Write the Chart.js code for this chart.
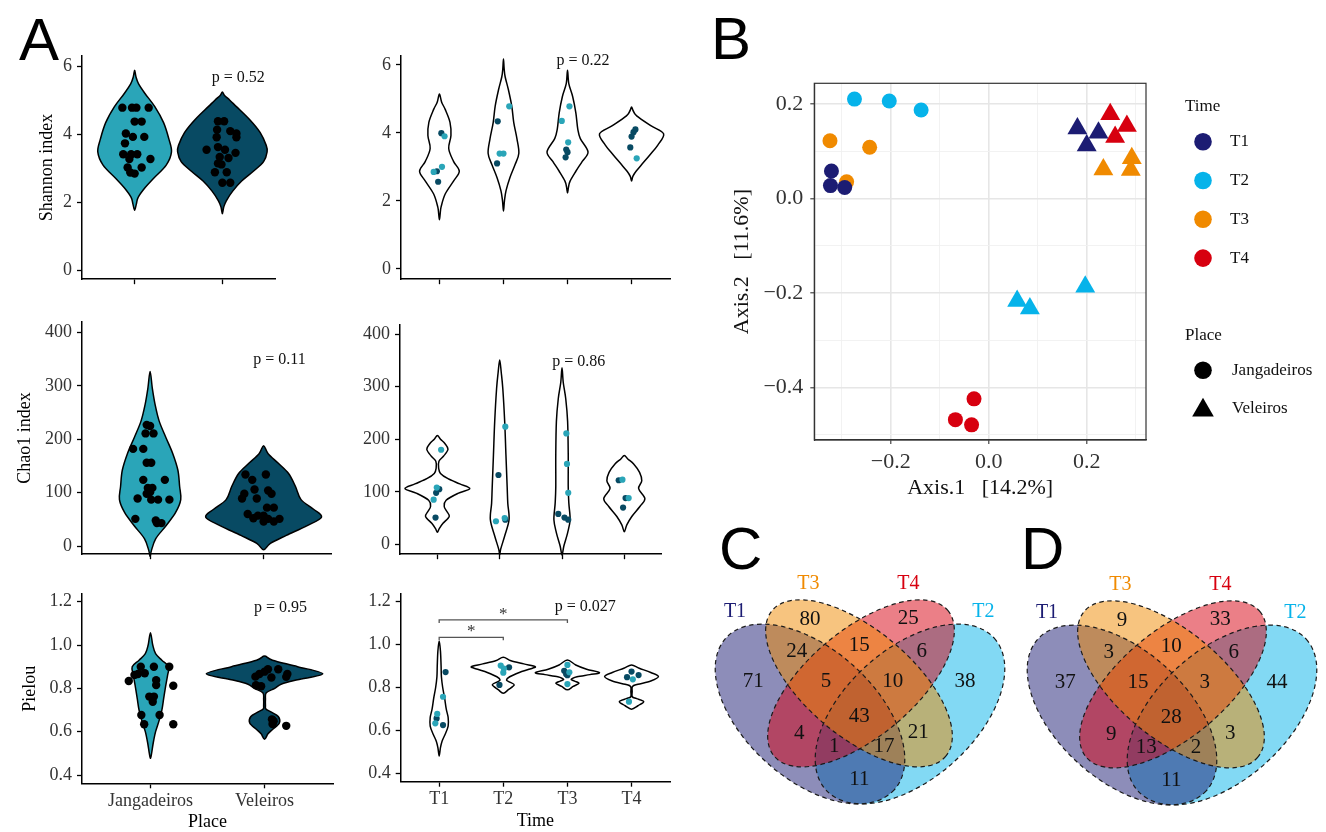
<!DOCTYPE html>
<html>
<head>
<meta charset="utf-8">
<script src="https://cdn.jsdelivr.net/npm/chart.js@4.4.1/dist/chart.umd.min.js"></script>
<style>
html, body { margin: 0; padding: 0; background: #fff; width: 1326px; height: 832px; overflow: hidden; }
canvas { position: absolute; }
.tag { position: absolute; font-family: "Liberation Sans", Arial, sans-serif; font-size: 60px; line-height: 60px; color: #000; }
</style>
</head>
<body>
<div class="tag" style="left:19px;top:10px">A</div>
<div class="tag" style="left:711px;top:9px">B</div>
<div class="tag" style="left:719px;top:519px">C</div>
<div class="tag" style="left:1021px;top:519px">D</div>

<canvas id="shP" width="300" height="255" style="left:0;top:40px"></canvas>
<canvas id="shT" width="350" height="255" style="left:340px;top:40px"></canvas>
<canvas id="chP" width="350" height="265" style="left:0;top:305px"></canvas>
<canvas id="chT" width="350" height="265" style="left:340px;top:305px"></canvas>
<canvas id="piP" width="350" height="257" style="left:0;top:575px"></canvas>
<canvas id="piT" width="350" height="257" style="left:340px;top:575px"></canvas>
<canvas id="pcoa" width="626" height="460" style="left:700px;top:60px"></canvas>
<canvas id="vennC" width="320" height="292" style="left:700px;top:540px"></canvas>
<canvas id="vennD" width="314" height="291" style="left:1012px;top:541px"></canvas>

<script>
// ---------- panel A data ----------
const placeCats = ['Jangadeiros', 'Veleiros'];
const timeCats = ['T1', 'T2', 'T3', 'T4'];

const shannonTicks = [0, 2, 4, 6];
const chao1Ticks = [0, 100, 200, 300, 400];
const pielouTicks = [0.4, 0.6, 0.8, 1.0, 1.2];

// violin outlines: [value, half width in category units]
const shannonPlaceViolins = [
  [[1.77,0],[1.96,0.02],[2.15,0.04],[2.44,0.12],[2.72,0.22],[3.1,0.36],[3.49,0.42],[3.87,0.39],[4.35,0.33],[4.82,0.23],[5.2,0.12],[5.49,0.045],[5.7,0.015],[5.89,0]],
  [[1.67,0],[1.86,0.015],[2.05,0.045],[2.34,0.12],[2.63,0.22],[2.91,0.35],[3.2,0.47],[3.49,0.51],[3.68,0.5],[4.06,0.43],[4.44,0.31],[4.82,0.16],[5.01,0.085],[5.15,0.025],[5.25,0]]
];
// points: [jitter, value]
const shannonPlacePoints = [
  [[-0.14,4.79],[-0.03,4.79],[0.02,4.79],[0.16,4.79],[0,4.38],[0.08,4.38],[-0.1,4.03],[-0.02,3.93],[0.11,3.93],[-0.11,3.74],[-0.13,3.42],[-0.04,3.42],[0.03,3.42],[0.18,3.28],[-0.06,3.28],[-0.08,3.03],[0.08,3.03],[-0.05,2.88],[0,2.85]],
  [[-0.05,4.39],[0.02,4.39],[-0.06,4.14],[0.09,4.1],[0.16,4.03],[0.16,3.92],[-0.065,3.92],[-0.18,3.55],[-0.05,3.63],[0.03,3.55],[-0.03,3.34],[0.07,3.31],[0.15,3.46],[-0.05,3.15],[-0.01,3.12],[-0.085,2.89],[0.05,2.89],[0,2.58],[0.09,2.58]]
];
const shannonTimeViolins = [
  [[1.44,0],[1.62,0.012],[1.82,0.026],[2.2,0.09],[2.58,0.22],[2.87,0.31],[3.16,0.22],[3.54,0.145],[3.92,0.18],[4.31,0.165],[4.69,0.09],[4.9,0.035],[5.14,0]],
  [[1.7,0],[2.0,0.015],[2.3,0.04],[2.68,0.1],[3.06,0.18],[3.4,0.24],[3.83,0.21],[4.31,0.16],[4.78,0.13],[5.26,0.078],[5.65,0.026],[5.9,0.01],[6.17,0]],
  [[2.23,0],[2.4,0.015],[2.58,0.04],[2.87,0.13],[3.16,0.23],[3.44,0.32],[3.83,0.2],[4.11,0.16],[4.59,0.13],[5.07,0.08],[5.45,0.02],[5.84,0]],
  [[2.58,0],[2.72,0.02],[2.87,0.07],[3.06,0.155],[3.35,0.285],[3.64,0.41],[3.97,0.5],[4.21,0.3],[4.5,0.08],[4.65,0.025],[4.76,0]]
];
// points: [jitter, value, place index]
const shannonTimePoints = [
  [[0.03,3.99,1],[0.08,3.9,0],[0.04,3.0,0],[-0.09,2.85,0],[-0.04,2.87,1],[-0.02,2.56,1]],
  [[-0.09,4.34,1],[0.09,4.78,0],[-0.06,3.39,0],[0,3.39,0],[-0.1,3.1,1]],
  [[0.03,4.78,0],[-0.09,4.35,0],[0.01,3.72,0],[-0.02,3.51,1],[0,3.43,1],[-0.03,3.28,1]],
  [[0.06,4.1,1],[0.03,4.02,1],[0,3.89,1],[-0.02,3.57,1],[0.08,3.25,0]]
];

const chao1PlaceViolins = [
  [[-19.5,0],[-8,0.012],[14,0.05],[38,0.14],[63,0.225],[87,0.27],[112,0.26],[142,0.245],[173,0.2],[203,0.14],[234,0.08],[264,0.045],[295,0.02],[327,0]],
  [[-7,0],[5,0.06],[20,0.2],[38,0.38],[54,0.51],[69,0.44],[87,0.33],[112,0.28],[136,0.22],[155,0.13],[173,0.04],[188,0]]
];
const chao1PlacePoints = [
  [[-0.03,227],[0,225],[-0.04,211],[0.03,211],[-0.15,182],[-0.06,182],[-0.03,156],[0.01,156],[-0.06,124],[0.13,124],[-0.02,109],[0.02,109],[0,101],[-0.03,98],[-0.11,89],[0.01,87],[0.07,87],[0.17,87],[-0.13,51],[0.05,48],[0.06,43],[0.1,43]],
  [[-0.16,134],[0.02,134],[-0.1,124],[-0.08,106],[0.04,104],[0.07,98],[-0.17,98],[-0.19,89],[-0.06,89],[0.03,72],[0.09,72],[-0.14,60],[-0.09,52],[-0.05,57],[0,57],[0.04,51],[0.14,51],[0,46],[0.09,46]]
];
const chao1TimeViolins = [
  [[23,0],[30,0.03],[40,0.09],[53,0.19],[63,0.15],[72,0.11],[84,0.14],[97,0.33],[106,0.52],[115,0.36],[125,0.17],[135,0.05],[145,0.02],[158,0.025],[168,0.1],[181,0.17],[192,0.12],[200,0.05],[207,0]],
  [[-20,0],[-9,0.016],[16,0.08],[47,0.15],[78,0.13],[109,0.12],[171,0.1],[234,0.08],[296,0.05],[327,0.025],[351,0]],
  [[-20,0],[-3,0.03],[22,0.09],[47,0.13],[78,0.11],[109,0.1],[171,0.1],[234,0.09],[277,0.06],[308,0.02],[336,0]],
  [[24,0],[37,0.04],[53,0.12],[72,0.25],[87,0.33],[106,0.23],[121,0.28],[137,0.245],[153,0.15],[162,0.06],[169,0]]
];
const chao1TimePoints = [
  [[0.06,180,0],[-0.01,108,0],[0.03,105,1],[-0.02,98,1],[-0.06,85,0],[-0.03,51,1]],
  [[0.09,224,0],[-0.02,132,1],[-0.06,44,0],[0.08,50,0],[0.09,47,1]],
  [[0.07,211,0],[0.08,153,0],[0.1,98,0],[-0.06,58,1],[0.04,51,1],[0.1,47,1]],
  [[-0.09,122,1],[-0.03,123,0],[0.02,88,1],[0.07,88,0],[-0.02,70,1]]
];

const pielouPlaceViolins = [
  [[0.477,0],[0.5,0.01],[0.55,0.025],[0.6,0.045],[0.65,0.075],[0.7,0.1],[0.75,0.115],[0.8,0.13],[0.86,0.15],[0.9,0.16],[0.93,0.1],[0.96,0.045],[1.0,0.02],[1.057,0]],
  [[0.565,0],[0.59,0.03],[0.61,0.07],[0.64,0.13],[0.67,0.12],[0.69,0.06],[0.705,0.012],[0.72,0.008],[0.75,0.008],[0.78,0.015],[0.8,0.09],[0.82,0.15],[0.84,0.29],[0.867,0.51],[0.9,0.29],[0.93,0.07],[0.949,0]]
];
const pielouPlacePoints = [
  [[-0.19,0.834],[-0.14,0.862],[-0.085,0.9],[-0.05,0.87],[0.03,0.9],[0.165,0.9],[0.05,0.838],[0.05,0.815],[0.2,0.812],[-0.01,0.762],[0.03,0.762],[0.02,0.738],[-0.08,0.677],[0.08,0.677],[-0.055,0.634],[0.2,0.634],[-0.11,0.866]],
  [[-0.08,0.854],[-0.075,0.815],[-0.03,0.81],[0,0.877],[0.03,0.888],[0.06,0.85],[0.12,0.888],[0.2,0.866],[0.19,0.853],[-0.045,0.866],[0.065,0.657],[0.07,0.635],[0.19,0.627],[0.08,0.648]]
];
const pielouTimeViolins = [
  [[0.481,0],[0.52,0.02],[0.55,0.045],[0.58,0.09],[0.62,0.14],[0.66,0.14],[0.7,0.11],[0.75,0.085],[0.8,0.055],[0.85,0.035],[0.9,0.03],[0.97,0.02],[1.017,0]],
  [[0.773,0],[0.79,0.08],[0.812,0.17],[0.825,0.1],[0.835,0.05],[0.85,0.1],[0.87,0.25],[0.885,0.4],[0.897,0.5],[0.91,0.32],[0.925,0.12],[0.941,0]],
  [[0.789,0],[0.805,0.09],[0.82,0.18],[0.83,0.11],[0.838,0.06],[0.85,0.15],[0.86,0.35],[0.869,0.5],[0.885,0.3],[0.905,0.13],[0.928,0]],
  [[0.699,0],[0.715,0.1],[0.734,0.19],[0.748,0.08],[0.757,0.012],[0.78,0.01],[0.805,0.015],[0.815,0.1],[0.83,0.3],[0.851,0.42],[0.87,0.3],[0.89,0.12],[0.905,0]]
];
const pielouTimePoints = [
  [[0.1,0.872,1],[0.06,0.757,0],[-0.03,0.677,0],[-0.04,0.656,1],[-0.06,0.633,0],[0.06,0.625,1]],
  [[-0.04,0.902,0],[0,0.869,0],[0.01,0.888,0],[0.09,0.894,1],[-0.06,0.812,1]],
  [[0,0.905,0],[-0.05,0.878,1],[-0.02,0.863,1],[0.03,0.871,0],[0,0.857,1],[0,0.816,0]],
  [[-0.07,0.848,1],[0,0.874,1],[0.02,0.838,0],[0.11,0.858,1],[-0.04,0.734,0]]
];

const pShannon = ['p = 0.52', 'p = 0.22'];
const pChao1 = ['p = 0.11', 'p = 0.86'];
const pPielou = ['p = 0.95', 'p = 0.027'];
// pairwise comparisons on Pielou by time: [from, to, height, mark]
const pielouPairs = [[1, 3, 1.115, '*'], [1, 2, 1.034, '*']];

// ---------- panel B data (PCoA) ----------
const pcoaXTicks = [-0.3, -0.2, -0.1, 0, 0.1, 0.2, 0.3];
const pcoaYTicks = [-0.5, -0.4, -0.3, -0.2, -0.1, 0, 0.1, 0.2];
const pcoaAxis1Jangadeiros = [[-0.321,-0.323,-0.294],[-0.274,-0.203,-0.138],[-0.324,-0.243,-0.290],[-0.030,-0.068,-0.035]];
const pcoaAxis2Jangadeiros = [[0.058,0.027,0.023],[0.210,0.206,0.187],[0.122,0.108,0.035],[-0.424,-0.468,-0.479]];
const pcoaAxis1Veleiros = [[0.181,0.224,0.200],[0.058,0.084,0.197],[0.234,0.292,0.290],[0.248,0.282,0.258]];
const pcoaAxis2Veleiros = [[0.148,0.139,0.112],[-0.217,-0.233,-0.187],[0.061,0.085,0.060],[0.178,0.153,0.130]];

// ---------- panels C, D data (Venn counts) ----------
const vennRegions = ['T1','T3','T4','T2','T1&T3','T3&T4','T4&T2','T1&T3&T4','T3&T4&T2','all','T1&T4','T3&T2','T1&T2&T4','T1&T2&T3','T1&T2'];
const vennCountsC = [71, 80, 25, 38, 24, 15, 6, 5, 10, 43, 4, 21, 1, 17, 11];
const vennCountsD = [37, 9, 33, 44, 3, 10, 6, 15, 3, 28, 9, 3, 13, 2, 11];

// ---------- styles / layout ----------
const SERIF = '"Liberation Serif", "Times New Roman", serif';
const TEAL = '#2aa5b8', DEEP = '#084a63';
const timeColors = ['#1c1c73', '#06b3ea', '#f08a00', '#d7000f'];
// ellipses in venn units: [cx, cy, a, b, angle]; order T1, T2, T3, T4
const vennEllipses = [[0.330,0.478,0.340,0.195,-42],[0.630,0.478,0.340,0.195,42],[0.477,0.570,0.340,0.160,-40],[0.483,0.570,0.340,0.160,40]];
const vennDrawOrder = [1, 0, 3, 2];
const vennSetPos = [[0.105,0.785],[0.850,0.785],[0.325,0.870],[0.625,0.870]];
const vennLabelPos = [[0.160,0.575],[0.330,0.763],[0.625,0.765],[0.795,0.575],[0.290,0.665],[0.478,0.685],[0.665,0.665],[0.378,0.577],[0.578,0.577],[0.478,0.472],[0.298,0.420],[0.655,0.422],[0.403,0.380],[0.552,0.380],[0.478,0.282]];

Chart.defaults.font.family = SERIF;
Chart.defaults.color = '#333';

function smoothClosed(ctx, pts) {
  const n = pts.length;
  ctx.moveTo(pts[0][0], pts[0][1]);
  for (let i = 0; i < n; i++) {
    const p0 = pts[(i - 1 + n) % n], p1 = pts[i], p2 = pts[(i + 1) % n], p3 = pts[(i + 2) % n];
    ctx.bezierCurveTo(p1[0] + (p2[0] - p0[0]) / 6, p1[1] + (p2[1] - p0[1]) / 6,
      p2[0] - (p3[0] - p1[0]) / 6, p2[1] - (p3[1] - p1[1]) / 6, p2[0], p2[1]);
  }
  ctx.closePath();
}

function violinLayer(shapes, fills) {
  return {
    id: 'violinLayer',
    beforeDatasetsDraw(chart) {
      const { ctx, scales: { x, y } } = chart;
      shapes.forEach((prof, i) => {
        const c = i + 1;
        const right = prof.map(([v, w]) => [x.getPixelForValue(c + w), y.getPixelForValue(v)]);
        const left = prof.slice(1, -1).reverse().map(([v, w]) => [x.getPixelForValue(c - w), y.getPixelForValue(v)]);
        ctx.save();
        ctx.beginPath(); smoothClosed(ctx, right.concat(left));
        ctx.fillStyle = fills ? fills[i] : '#fff'; ctx.fill();
        ctx.lineWidth = 1.5; ctx.strokeStyle = '#000'; ctx.lineJoin = 'round'; ctx.stroke();
        ctx.restore();
      });
    }
  };
}

function decorLayer(o) {
  return {
    id: 'decorLayer',
    afterDatasetsDraw(chart) {
      const { ctx, chartArea: a, scales: { x, y } } = chart;
      ctx.save();
      ctx.fillStyle = '#111'; ctx.textAlign = 'center'; ctx.textBaseline = 'middle';
      ctx.font = '16px ' + SERIF;
      ctx.fillText(o.pText, x.getPixelForValue(o.pAt[0]), y.getPixelForValue(o.pAt[1]));
      ctx.font = '18px ' + SERIF; ctx.fillStyle = '#000';
      if (o.yTitle) {
        ctx.save(); ctx.translate(a.left - o.yTitleGap, (a.top + a.bottom) / 2); ctx.rotate(-Math.PI / 2);
        ctx.fillText(o.yTitle, 0, 0); ctx.restore();
      }
      if (o.xTitle) ctx.fillText(o.xTitle, (a.left + a.right) / 2, a.bottom + o.xTitleGap);
      (o.pairs || []).forEach(([c1, c2, h, mark]) => {
        const x1 = x.getPixelForValue(c1), x2 = x.getPixelForValue(c2), yy = y.getPixelForValue(h);
        ctx.beginPath(); ctx.moveTo(x1, yy + 3); ctx.lineTo(x1, yy); ctx.lineTo(x2, yy); ctx.lineTo(x2, yy + 3);
        ctx.strokeStyle = '#555'; ctx.lineWidth = 1.3; ctx.stroke();
        ctx.font = '17px ' + SERIF; ctx.textBaseline = 'alphabetic'; ctx.fillStyle = '#333';
        ctx.fillText(mark, (x1 + x2) / 2, yy - 1);
        ctx.textBaseline = 'middle';
      });
      ctx.restore();
    }
  };
}

function violinPanel(id, o) {
  const cats = o.cats;
  const sets = [[], []];
  o.points.forEach((grp, i) => grp.forEach(p => sets[o.byTime ? p[2] : i].push({ x: i + 1 + p[0], y: p[1] })));
  const colors = o.byTime ? [TEAL, DEEP] : ['#000', '#000'];
  const datasets = sets.map((d, k) => ({ data: d, pointRadius: o.r, backgroundColor: colors[k], borderWidth: 0, clip: false }));
  new Chart(document.getElementById(id), {
    type: 'scatter',
    data: { datasets },
    options: {
      responsive: false, animation: false, events: [],
      layout: { padding: { top: o.box[1], right: o.box[2], left: 0, bottom: 0 } },
      plugins: { legend: { display: false }, tooltip: { enabled: false } },
      scales: {
        x: {
          type: 'linear', min: 0.4, max: cats.length + 0.6,
          afterBuildTicks: s => { s.ticks = cats.map((c, i) => ({ value: i + 1 })); },
          afterFit: s => { s.height = o.box[3]; },
          ticks: { display: !!o.xTitle, autoSkip: false, maxRotation: 0, padding: 2, color: '#333', font: { size: 18 }, callback: (v, i) => cats[i] },
          grid: { drawOnChartArea: false, tickLength: 5, tickColor: '#000', tickWidth: 1.3 },
          border: { color: '#000', width: 1.5 }
        },
        y: {
          type: 'linear', min: o.yRange[0], max: o.yRange[1],
          afterBuildTicks: s => { s.ticks = o.yTicks.map(v => ({ value: v })); },
          afterFit: s => { s.width = o.box[0]; },
          ticks: { padding: 5, color: '#333', font: { size: 18 }, callback: v => o.oneDecimal ? v.toFixed(1) : String(v) },
          grid: { drawOnChartArea: false, tickLength: 5, tickColor: '#000', tickWidth: 1.3 },
          border: { color: '#000', width: 1.5 }
        }
      }
    },
    plugins: [violinLayer(o.violins, o.byTime ? null : [TEAL, DEEP]), decorLayer(o)]
  });
}

violinPanel('shP', { cats: placeCats, violins: shannonPlaceViolins, points: shannonPlacePoints, r: 4.2,
  box: [82, 15, 25, 11], yRange: [-0.258, 6.316], yTicks: shannonTicks,
  pText: pShannon[0], pAt: [2.18, 5.656], yTitle: 'Shannon index', yTitleGap: 35 });
violinPanel('shT', { cats: timeCats, byTime: true, violins: shannonTimeViolins, points: shannonTimePoints, r: 3.1,
  box: [61, 15, 20, 11], yRange: [-0.307, 6.267], yTicks: shannonTicks,
  pText: pShannon[1], pAt: [3.24, 6.13] });
violinPanel('chP', { cats: placeCats, violins: chao1PlaceViolins, points: chao1PlacePoints, r: 4.2,
  box: [82, 16.7, 18.3, 10.7], yRange: [-15.2, 420.2], yTicks: chao1Ticks,
  pText: pChao1[0], pAt: [2.14, 348], yTitle: 'Chao1 index', yTitleGap: 57 });
violinPanel('chT', { cats: timeCats, byTime: true, violins: chao1TimeViolins, points: chao1TimePoints, r: 3.1,
  box: [60, 19.3, 28.3, 11.7], yRange: [-18.7, 418.7], yTicks: chao1Ticks,
  pText: pChao1[1], pAt: [3.27, 348] });
violinPanel('piP', { cats: placeCats, violins: pielouPlaceViolins, points: pielouPlacePoints, r: 4.2, oneDecimal: true,
  box: [82, 19, 17, 48.7], yRange: [0.3617, 1.2355], yTicks: pielouTicks,
  pText: pPielou[0], pAt: [2.14, 1.171], yTitle: 'Pielou', yTitleGap: 52, xTitle: 'Place', xTitleGap: 38.7 });
violinPanel('piT', { cats: timeCats, byTime: true, violins: pielouTimeViolins, points: pielouTimePoints, r: 3.1, oneDecimal: true,
  box: [60.7, 18.3, 20, 50.3], yRange: [0.361, 1.239], yTicks: pielouTicks,
  pText: pPielou[1], pAt: [3.28, 1.174], xTitle: 'Time', xTitleGap: 40, pairs: pielouPairs });

// ---------- panel B ----------
function isMajor(v) { return Math.abs(Math.round(v * 10)) % 2 === 0; }
function pcoaLabel(v) { return isMajor(v) ? (v < -1e-9 ? '\u2212' : '') + Math.abs(v).toFixed(1) : ''; }

function drawMarker(ctx, style, r, x, y, color) {
  ctx.fillStyle = color; ctx.beginPath();
  if (style === 'circle') ctx.arc(x, y, r, 0, Math.PI * 2);
  else { ctx.moveTo(x, y - r); ctx.lineTo(x + r * 0.866, y + r / 2); ctx.lineTo(x - r * 0.866, y + r / 2); ctx.closePath(); }
  ctx.fill();
}

const pcoaSets = [];
timeCats.forEach((t, i) => {
  pcoaSets.push({ label: t + ' Jangadeiros', data: pcoaAxis1Jangadeiros[i].map((v, k) => ({ x: v, y: pcoaAxis2Jangadeiros[i][k] })),
    pointStyle: 'circle', pointRadius: 7.5, backgroundColor: timeColors[i], borderWidth: 0 });
  pcoaSets.push({ label: t + ' Veleiros', data: pcoaAxis1Veleiros[i].map((v, k) => ({ x: v, y: pcoaAxis2Veleiros[i][k] })),
    pointStyle: 'triangle', pointRadius: 11.5, backgroundColor: timeColors[i], borderWidth: 0 });
});

const pcoaDecor = {
  id: 'pcoaDecor',
  afterDraw(chart) {
    const { ctx, chartArea: a } = chart;
    ctx.save();
    ctx.strokeStyle = '#333'; ctx.lineWidth = 1.2;
    ctx.strokeRect(a.left, a.top, a.right - a.left, a.bottom - a.top);
    ctx.fillStyle = '#111'; ctx.textAlign = 'center'; ctx.textBaseline = 'middle';
    ctx.font = '22px ' + SERIF;
    ctx.fillText('Axis.1   [14.2%]', (a.left + a.right) / 2, a.bottom + 48);
    ctx.save(); ctx.translate(a.left - 72.5, (a.top + a.bottom) / 2); ctx.rotate(-Math.PI / 2);
    ctx.fillText('Axis.2   [11.6%]', 0, 0); ctx.restore();
    // legends
    const lx = a.right + 39, kx = a.right + 57;
    ctx.textAlign = 'left'; ctx.font = '17px ' + SERIF;
    ctx.fillText('Time', lx, a.top + 23);
    timeCats.forEach((t, i) => {
      const yy = a.top + 58.4 + 38.8 * i;
      drawMarker(ctx, 'circle', 8.8, kx, yy, timeColors[i]);
      ctx.fillStyle = '#111'; ctx.fillText(t, a.right + 84, yy);
    });
    ctx.fillText('Place', lx, a.top + 252);
    placeCats.forEach((p, i) => {
      const yy = a.top + 287 + 38 * i;
      drawMarker(ctx, i ? 'triangle' : 'circle', i ? 12.5 : 8.8, kx, yy + (i ? 2 : 0), '#000');
      ctx.fillStyle = '#111'; ctx.fillText(p, a.right + 86, yy);
    });
    ctx.restore();
  }
};

new Chart(document.getElementById('pcoa'), {
  type: 'scatter',
  data: { datasets: pcoaSets },
  options: {
    responsive: false, animation: false, events: [],
    layout: { padding: { top: 23.3, right: 180, left: 0, bottom: 0 } },
    plugins: { legend: { display: false }, tooltip: { enabled: false } },
    scales: {
      x: {
        min: -0.356, max: 0.321,
        afterBuildTicks: s => { s.ticks = pcoaXTicks.map(v => ({ value: v })); },
        afterFit: s => { s.height = 80; },
        ticks: { padding: 5, color: '#333', font: { size: 22 }, maxRotation: 0, autoSkip: false, callback: v => pcoaLabel(v) },
        grid: { color: c => isMajor(c.tick.value) ? '#e6e6e6' : '#f0f0f0', lineWidth: c => isMajor(c.tick.value) ? 1.6 : 0.9,
          tickColor: c => isMajor(c.tick.value) ? '#333' : 'rgba(0,0,0,0)', tickLength: 4, tickWidth: 1.1 },
        border: { color: '#333', width: 1.2 }
      },
      y: {
        min: -0.511, max: 0.2434,
        afterBuildTicks: s => { s.ticks = pcoaYTicks.map(v => ({ value: v })); },
        afterFit: s => { s.width = 114.3; },
        ticks: { padding: 7, color: '#333', font: { size: 22 }, autoSkip: false, callback: v => pcoaLabel(v) },
        grid: { color: c => isMajor(c.tick.value) ? '#e6e6e6' : '#f0f0f0', lineWidth: c => isMajor(c.tick.value) ? 1.6 : 0.9,
          tickColor: c => isMajor(c.tick.value) ? '#333' : 'rgba(0,0,0,0)', tickLength: 4, tickWidth: 1.1 },
        border: { color: '#333', width: 1.2 }
      }
    }
  },
  plugins: [pcoaDecor]
});

// ---------- panels C, D ----------
function vennLayer(counts) {
  return {
    id: 'vennLayer',
    beforeDatasetsDraw(chart) {
      const { ctx, scales: { x, y } } = chart;
      const paths = vennEllipses.map(([cx, cy, ea, eb, ang]) => {
        const px = x.getPixelForValue(cx), py = y.getPixelForValue(cy);
        const p = new Path2D();
        p.ellipse(px, py, x.getPixelForValue(cx + ea) - px, py - y.getPixelForValue(cy + eb), -ang * Math.PI / 180, 0, Math.PI * 2);
        return p;
      });
      ctx.save();
      vennDrawOrder.forEach(i => { ctx.globalAlpha = 0.5; ctx.fillStyle = timeColors[i]; ctx.fill(paths[i]); });
      ctx.globalAlpha = 1; ctx.setLineDash([4.5, 3.5]); ctx.lineWidth = 1.2; ctx.strokeStyle = '#1a1a1a';
      paths.forEach(p => ctx.stroke(p));
      ctx.setLineDash([]);
      ctx.font = '20px ' + SERIF; ctx.textAlign = 'center'; ctx.textBaseline = 'middle';
      timeCats.forEach((t, i) => {
        ctx.fillStyle = timeColors[i];
        ctx.fillText(t, x.getPixelForValue(vennSetPos[i][0]), y.getPixelForValue(vennSetPos[i][1]));
      });
      ctx.restore();
    },
    afterDatasetsDraw(chart) {
      const { ctx } = chart;
      ctx.save();
      ctx.font = '21px ' + SERIF; ctx.textAlign = 'center'; ctx.textBaseline = 'middle'; ctx.fillStyle = '#111';
      chart.getDatasetMeta(0).data.forEach((pt, i) => ctx.fillText(String(counts[i]), pt.x, pt.y));
      ctx.restore();
    }
  };
}

function vennPanel(id, counts, xMax, yMin) {
  new Chart(document.getElementById(id), {
    type: 'scatter',
    data: { datasets: [{ label: 'regions', data: vennLabelPos.map(p => ({ x: p[0], y: p[1] })), pointRadius: 0 }] },
    options: {
      responsive: false, animation: false, events: [],
      layout: { padding: 0 },
      plugins: { legend: { display: false }, tooltip: { enabled: false } },
      scales: { x: { display: false, min: 0, max: xMax }, y: { display: false, min: yMin, max: 1 } }
    },
    plugins: [vennLayer(counts)]
  });
}

vennPanel('vennC', vennCountsC, 0.96, 0.124);
vennPanel('vennD', vennCountsD, 0.942, 0.127);
</script>
</body>
</html>
